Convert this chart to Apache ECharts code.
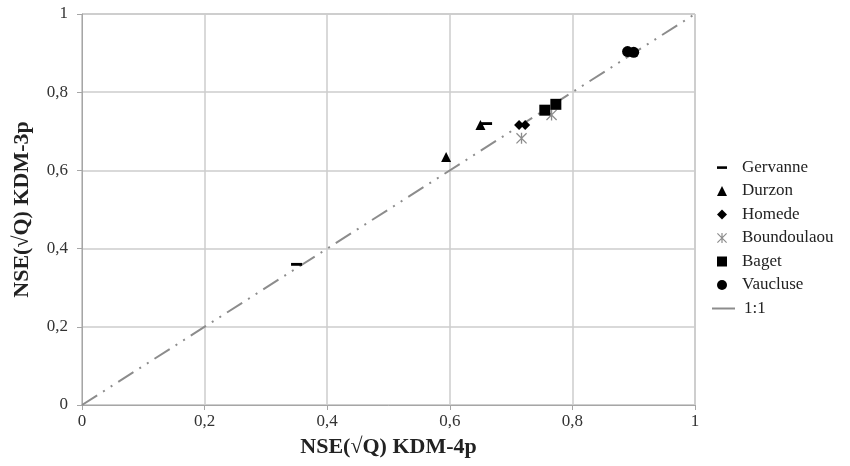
<!DOCTYPE html>
<html>
<head>
<meta charset="utf-8">
<script src="https://cdn.jsdelivr.net/npm/echarts@6/dist/echarts.min.js"></script>
<style>
html,body{margin:0;padding:0;background:#fff;}
#chart{width:850px;height:466px;}
</style>
</head>
<body>
<div id="chart"></div>
<script>
// Data (x = NSE(√Q) KDM-4p, y = NSE(√Q) KDM-3p)
const seriesNames = ['Gervanne', 'Durzon', 'Homede', 'Boundoulaou', 'Baget', 'Vaucluse'];
const gervanne = [[0.350, 0.360], [0.660, 0.720]];
const durzon = [[0.594, 0.634], [0.650, 0.716]];
const homede = [[0.713, 0.716], [0.723, 0.716]];
const boundoulaou = [[0.717, 0.682], [0.766, 0.742]];
const baget = [[0.755, 0.754], [0.773, 0.769]];
const vaucluse = [[0.890, 0.904], [0.900, 0.902]];
const identityLine = [[0, 0], [1, 1]];
const identityName = '1:1';
const xAxisTitle = 'NSE(\u221AQ) KDM-4p';
const yAxisTitle = 'NSE(\u221AQ) KDM-3p';

const FONT = '"Liberation Serif", "DejaVu Serif", serif';
const dashSym = 'path://M0,0 M0,10 M0,3.8 L10,3.8 L10,6.4 L0,6.4 Z';
const starSym = 'path://M4.4,0 L5.6,0 L5.6,10 L4.4,10 Z M0,0.8 L0.8,0 L10,9.2 L9.2,10 Z M9.2,0 L10,0.8 L0.8,10 L0,9.2 Z';
const fmt = v => String(v).replace('.', ',');

function sc(name, data, symbol, size, color) {
  return {
    name: name, type: 'scatter', data: data, symbol: symbol, symbolSize: size,
    itemStyle: { color: color, opacity: 1 }, z: 5
  };
}

const option = {
  backgroundColor: '#fff',
  animation: false,
  grid: { left: 82, top: 14, right: 155, bottom: 61, show: true, borderColor: '#a6a6a6', borderWidth: 1 },
  xAxis: {
    type: 'value', min: 0, max: 1, interval: 0.2,
    name: xAxisTitle, nameLocation: 'middle', nameGap: 31,
    nameTextStyle: { fontFamily: FONT, fontWeight: 'bold', fontSize: 22, color: '#222' },
    axisLine: { show: true, lineStyle: { color: '#a6a6a6', width: 1 } },
    axisTick: { show: true, length: 5, lineStyle: { color: '#a6a6a6' } },
    axisLabel: { fontFamily: FONT, fontSize: 17, color: '#333', margin: 8, formatter: fmt },
    splitLine: { show: true, lineStyle: { color: '#cccccc', width: 1.5 } }
  },
  yAxis: {
    type: 'value', min: 0, max: 1, interval: 0.2,
    name: yAxisTitle, nameLocation: 'middle', nameGap: 49, nameRotate: 90,
    nameTextStyle: { fontFamily: FONT, fontWeight: 'bold', fontSize: 22, color: '#222' },
    axisLine: { show: true, lineStyle: { color: '#a6a6a6', width: 1 } },
    axisTick: { show: true, length: 5, lineStyle: { color: '#a6a6a6' } },
    axisLabel: { fontFamily: FONT, fontSize: 17, color: '#333', margin: 14, formatter: fmt },
    splitLine: { show: true, lineStyle: { color: '#cccccc', width: 1.5 } }
  },
  legend: [
    {
      orient: 'vertical', left: 712, top: 154, itemWidth: 10, itemHeight: 10, itemGap: 6.5,
      textStyle: { fontFamily: FONT, fontSize: 17, color: '#222', padding: [0, 0, 0, 10] },
      data: seriesNames
    },
    {
      orient: 'vertical', left: 707, top: 295, itemWidth: 23, itemHeight: 2,
      textStyle: { fontFamily: FONT, fontSize: 17, color: '#222', padding: [0, 0, 0, 4] },
      data: [{ name: identityName, icon: 'rect', itemStyle: { color: '#8c8c8c' } }]
    }
  ],
  series: [
    sc('Gervanne', gervanne, dashSym, 11, '#000'),
    sc('Durzon', durzon, 'triangle', 10, '#000'),
    sc('Homede', homede, 'diamond', 10, '#000'),
    sc('Boundoulaou', boundoulaou, starSym, 11, '#8c8c8c'),
    sc('Baget', baget, 'rect', 11, '#000'),
    sc('Vaucluse', vaucluse, 'circle', 11, '#000'),
    {
      name: identityName, type: 'line', data: identityLine, symbol: 'none', z: 3,
      itemStyle: { color: '#8c8c8c' },
      lineStyle: { color: '#8c8c8c', width: 2, type: [18, 7, 2, 7, 2, 7] }
    }
  ]
};

const chart = echarts.init(document.getElementById('chart'), null, { renderer: 'canvas' });
chart.setOption(option);
</script>
</body>
</html>
